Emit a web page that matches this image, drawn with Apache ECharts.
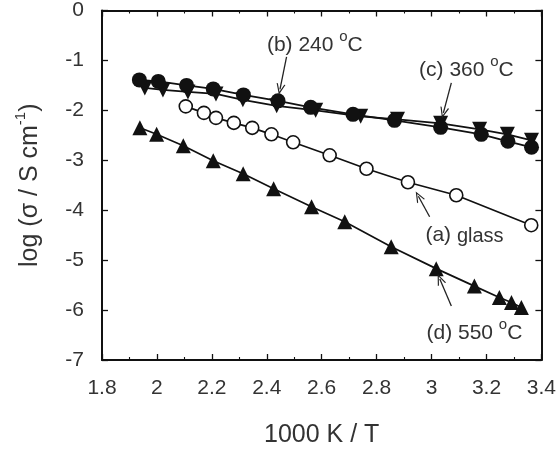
<!DOCTYPE html>
<html>
<head>
<meta charset="utf-8">
<script src="https://cdn.jsdelivr.net/npm/echarts@6/dist/echarts.min.js"></script>
<style>html,body{margin:0;padding:0;background:#fff}#c{width:559px;height:453px}</style>
</head>
<body>
<div id="c"></div>
<script>
// (a) glass — open circles
const xGlass = [2.105, 2.171, 2.215, 2.28, 2.347, 2.417, 2.496, 2.629, 2.763, 2.914, 3.09, 3.363];
const yGlass = [-1.92, -2.05, -2.15, -2.25, -2.35, -2.48, -2.64, -2.90, -3.17, -3.44, -3.70, -4.30];
// (b) 240 °C — filled circles
const x240 = [1.936, 2.005, 2.108, 2.205, 2.315, 2.441, 2.56, 2.714, 2.865, 3.033, 3.181, 3.278, 3.364];
const y240 = [-1.39, -1.42, -1.50, -1.57, -1.69, -1.81, -1.94, -2.08, -2.20, -2.34, -2.48, -2.62, -2.74];
// (c) 360 °C — filled down triangles
const x360 = [1.956, 2.022, 2.113, 2.215, 2.313, 2.436, 2.578, 2.742, 2.876, 3.033, 3.175, 3.276, 3.364];
const y360 = [-1.55, -1.59, -1.63, -1.67, -1.79, -1.91, -2.00, -2.12, -2.18, -2.26, -2.38, -2.48, -2.60];
// (d) 550 °C — filled up triangles
const x550 = [1.938, 1.999, 2.096, 2.205, 2.314, 2.425, 2.563, 2.684, 2.853, 3.017, 3.156, 3.247, 3.291, 3.327];
const y550 = [-2.35, -2.48, -2.71, -3.01, -3.27, -3.57, -3.93, -4.23, -4.73, -5.17, -5.52, -5.75, -5.85, -5.95];

const xTicks = [1.8, 2, 2.2, 2.4, 2.6, 2.8, 3, 3.2, 3.4];
const yTicks = [0, -1, -2, -3, -4, -5, -6, -7];

// annotation arrows [tailX, tailY, headX, headY] and label anchors, in data units
const arrowA = [2.993, -4.13, 2.952, -3.72];
const arrowB = [2.472, -0.93, 2.448, -1.58];
const arrowC = [3.072, -1.45, 3.043, -2.05];
const arrowD = [3.072, -5.92, 3.030, -5.38];
const labelA = [3.12, -4.46];
const labelB = [2.575, -0.64];
const labelC = [3.127, -1.14];
const labelD = [3.156, -6.41];

const ink = '#111';
const txt = '#333';
const font = 'Liberation Sans, Arial, sans-serif';

function pairs(xs, ys) { return xs.map((x, i) => [x, ys[i]]); }

const vHead = 'path://M5,0 L10,11 L8.6,11 L5,3 L1.4,11 L0,11 Z';
function arrow(a) {
  return {
    silent: true, animation: false,
    symbol: ['none', vHead], symbolSize: [9, 11],
    lineStyle: { color: '#222', width: 1.3, type: 'solid' },
    label: { show: false },
    data: [[{ coord: [a[0], a[1]] }, { coord: [a[2], a[3]] }]]
  };
}
const rich = {
  t: { fontSize: 21, color: txt, fontFamily: font, lineHeight: 26, verticalAlign: 'bottom' },
  g: { fontSize: 20, color: txt, fontFamily: font, lineHeight: 26, verticalAlign: 'bottom' },
  s: { fontSize: 15, color: txt, fontFamily: font, lineHeight: 26, verticalAlign: 'top' }
};
function label(pos, text) {
  return {
    silent: true, animation: false,
    data: [{
      coord: pos, symbol: 'circle', symbolSize: 1,
      itemStyle: { color: 'rgba(0,0,0,0)' },
      label: { show: true, position: 'inside', formatter: text, rich: rich }
    }]
  };
}

const baseLine = (name, data, sym, size, filled, rot) => ({
  name, type: 'line', data, symbol: sym, symbolSize: size, symbolRotate: rot || 0,
  showAllSymbol: true, animation: false,
  lineStyle: { color: ink, width: 1.7 },
  itemStyle: filled ? { color: ink, borderColor: ink, borderWidth: 0 }
                    : { color: '#fff', borderColor: ink, borderWidth: 1.6 },
  z: 3
});

const sA = baseLine('glass', pairs(xGlass, yGlass), 'circle', 13, false);
sA.markLine = arrow(arrowA); sA.markPoint = label(labelA, '{t|(a) }{g|glass}');
const sD = baseLine('550', pairs(x550, y550), 'triangle', 15, true);
sD.markLine = arrow(arrowD); sD.markPoint = label(labelD, '{t|(d) 550 }{s|o}{t|C}');
const sC = baseLine('360', pairs(x360, y360), 'triangle', 15, true, 180);
sC.markLine = arrow(arrowC); sC.markPoint = label(labelC, '{t|(c) 360 }{s|o}{t|C}');
const sB = baseLine('240', pairs(x240, y240), 'circle', 15, true);
sB.markLine = arrow(arrowB); sB.markPoint = label(labelB, '{t|(b) 240 }{s|o}{t|C}');

const axisLine = { show: true, onZero: false, lineStyle: { color: ink, width: 2 } };
const tick = { show: true, inside: true, length: 6, lineStyle: { color: ink, width: 1.3 } };
const minor = { show: true, splitNumber: 2, length: 3, lineStyle: { color: ink, width: 1.1 } };
const lab = { color: txt, fontSize: 21, fontFamily: font };

const chart = echarts.init(document.getElementById('c'), null, { renderer: 'canvas' });
chart.setOption({
  backgroundColor: '#fff',
  animation: false,
  grid: { left: 102, right: 17, top: 10, bottom: 90 },
  xAxis: [{
    type: 'value', min: xTicks[0], max: xTicks[xTicks.length - 1], interval: 0.2,
    position: 'bottom', axisLine, axisTick: tick, minorTick: minor,
    splitLine: { show: false },
    axisLabel: Object.assign({ margin: 18, formatter: v => String(+v.toFixed(1)) }, lab),
    name: '1000 K / T', nameLocation: 'middle', nameGap: 63,
    nameTextStyle: { color: txt, fontSize: 25, fontFamily: font }
  }, {
    type: 'value', min: xTicks[0], max: xTicks[xTicks.length - 1], interval: 0.2,
    position: 'top', axisLine, axisTick: tick, minorTick: minor,
    splitLine: { show: false }, axisLabel: { show: false }
  }],
  yAxis: [{
    type: 'value', min: yTicks[yTicks.length - 1], max: yTicks[0], interval: 1,
    position: 'left', axisLine, axisTick: tick, splitLine: { show: false },
    axisLabel: Object.assign({ margin: 18 }, lab),
    name: '{t|log (σ / S cm}{s|-1}{t|)}', nameLocation: 'middle', nameGap: 59, nameRotate: 90,
    nameTextStyle: { rich: {
      t: { fontSize: 25, color: txt, fontFamily: font, lineHeight: 30, verticalAlign: 'bottom' },
      s: { fontSize: 15, color: txt, fontFamily: font, lineHeight: 30, verticalAlign: 'top' }
    } }
  }, {
    type: 'value', min: yTicks[yTicks.length - 1], max: yTicks[0], interval: 1,
    position: 'right', axisLine, axisTick: tick, splitLine: { show: false },
    axisLabel: { show: false }
  }],
  series: [sA, sD, sC, sB]
});
</script>
</body>
</html>
